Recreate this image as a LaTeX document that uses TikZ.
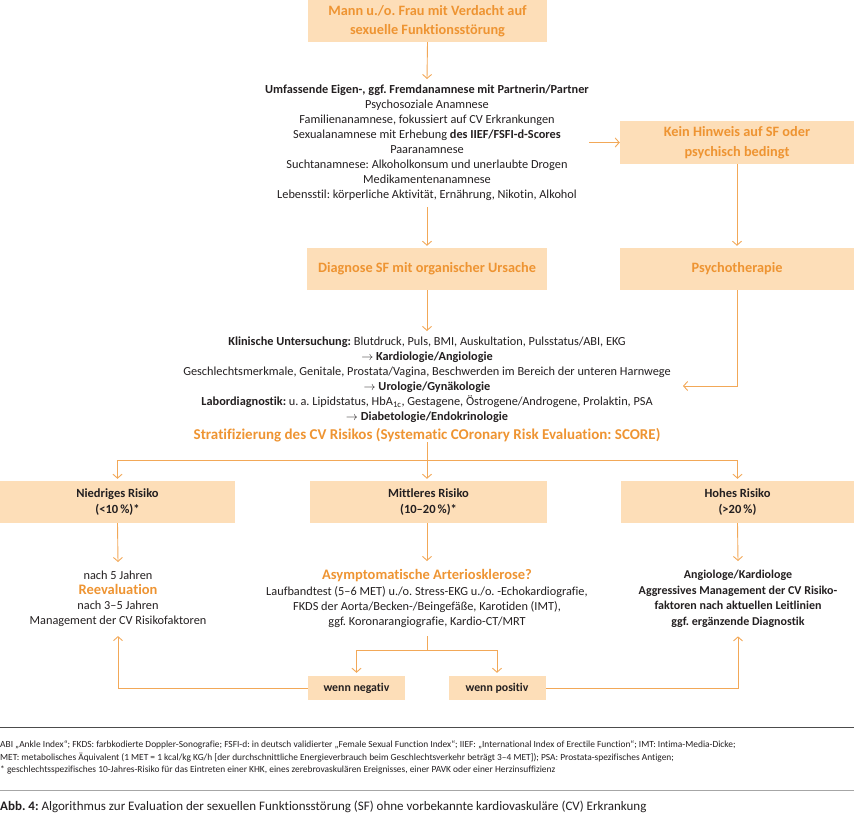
\documentclass[tikz,border=0pt]{standalone}
\usepackage{fontspec}
\setmainfont{Carlito}[Ligatures={TeX,NoCommon}]
\usetikzlibrary{arrows.meta}
\definecolor{peach}{RGB}{253,222,184}
\definecolor{ora}{RGB}{238,148,50}
\definecolor{lin}{RGB}{242,168,88}
\definecolor{txt}{RGB}{35,31,32}
\newcommand\otitlefont{\color{ora}\fontsize{14.5}{15}\selectfont\bfseries}
\frenchspacing
\begin{document}
\frenchspacing
\begin{tikzpicture}[x=1pt,y=-1pt,
  box/.style={fill=peach, inner sep=0, align=center},
  obox/.style={box, text=ora, font=\fontsize{14.3}{19.5}\selectfont\bfseries},
  rbox/.style={box, text=txt, minimum height=42, font=\fontsize{12.5}{16}\selectfont\bfseries},
  sbox/.style={box, text=txt, minimum width=97, minimum height=24, font=\fontsize{11.8}{12}\selectfont\bfseries},
  body/.style={inner xsep=0, inner ysep=6pt, align=center, text=txt, font=\fontsize{12.3}{15}\selectfont},
  arr/.style={draw=lin, line width=0.9pt, -{Straight Barb[length=4pt,width=9pt]}},
  ln/.style={draw=lin, line width=0.9pt},
  fnote/.style={anchor=base west, inner sep=0, text=txt, font=\fontsize{9.4}{12}\selectfont},
]
\useasboundingbox (0,0) rectangle (854,828);

\node[obox, minimum width=239, minimum height=42] (top) at (427.5,21) {Mann u./o. Frau mit Verdacht auf\\sexuelle Funktionsstörung};

\node[body, anchor=north] (anam) at (427,79) {\textbf{Umfassende Eigen-, ggf. Fremdanamnese mit Partnerin/Partner}\\ Psychosoziale Anamnese\\ Familienanamnese, fokussiert auf CV Erkrankungen\\ Sexualanamnese mit Erhebung \textbf{des IIEF/FSFI-d-Scores}\\ Paaranamnese\\ Suchtanamnese: Alkoholkonsum und unerlaubte Drogen\\ Medikamentenanamnese\\ Lebensstil: körperliche Aktivität, Ernährung, Nikotin, Alkohol};

\node[obox, minimum width=234, minimum height=43] (kein) at (737,142.5) {Kein Hinweis auf SF oder\\psychisch bedingt};

\node[obox, minimum width=240, minimum height=42] (diag) at (427,269) {Diagnose SF mit organischer Ursache};
\node[obox, minimum width=234, minimum height=42] (psych) at (737,269) {Psychotherapie};

\node[body, anchor=north] (klin) at (427,331) {\textbf{Klinische Untersuchung:} Blutdruck, Puls, BMI, Auskultation, Pulsstatus/ABI, EKG\\ $\rightarrow$ \textbf{Kardiologie/Angiologie}\\ Geschlechtsmerkmale, Genitale, Prostata/Vagina, Beschwerden im Bereich der unteren Harnwege\\ $\rightarrow$ \textbf{Urologie/Gynäkologie}\\ \textbf{Labordiagnostik:} u.\,a. Lipidstatus, HbA\textsubscript{1c}, Gestagene, Östrogene/Androgene, Prolaktin, PSA\\ $\rightarrow$ \textbf{Diabetologie/Endokrinologie}};

\node[inner sep=0, text=ora, font=\fontsize{15}{16}\selectfont\bfseries] (strat) at (427,435) {Stratifizierung des CV Risikos (Systematic COronary Risk Evaluation: SCORE)};

\coordinate (br) at (427,460);
\coordinate (klinR) at (683,386);

\node[rbox, minimum width=235] (low) at (117.5,502) {Niedriges Risiko\\(<10\,\%)*};
\node[rbox, minimum width=237] (mid) at (428.5,502) {Mittleres Risiko\\(10–20\,\%)*};
\node[rbox, minimum width=233] (high) at (737.5,502) {Hohes Risiko\\(>20\,\%)};

\node[body, anchor=north, inner ysep=9pt] (lowtxt) at (118,562) {nach 5 Jahren\\ {\otitlefont Reevaluation}\\ nach 3–5 Jahren\\ Management der CV Risikofaktoren};

\node[body, anchor=north, inner ysep=8pt] (midtxt) at (427,561) {{\otitlefont Asymptomatische Arteriosklerose?}\\[1.5pt] Laufbandtest (5–6 MET) u./o. Stress-EKG u./o. -Echokardiografie,\\ FKDS der Aorta/Becken-/Beingefäße, Karotiden (IMT),\\ ggf. Koronarangiografie, Kardio-CT/MRT};

\node[body, anchor=north, inner ysep=9pt, font=\fontsize{12}{15.5}\selectfont\bfseries] (hightxt) at (738,561) {Angiologe/Kardiologe\\ Aggressives Management der CV Risiko-\\ faktoren nach aktuellen Leitlinien\\ ggf. ergänzende Diagnostik};

\coordinate (br2) at (427,650);
\node[sbox] (neg) at (356.5,688) {wenn negativ};
\node[sbox] (pos) at (497,688) {wenn positiv};

% connectors
\draw[arr] (top.south) -- (anam.north);
\draw[arr, shorten >=2pt] (anam.south) -- (diag.north);
\draw[arr] (anam.east |- kein.west) -- (kein.west);
\draw[arr, shorten >=2pt] (kein.south) -- (psych.north);
\draw[arr] (diag.south) -- (klin.north);
\draw[arr] (psych.south) |- (klinR);
\draw[ln] (strat.south) -- (br);
\draw[arr, shorten >=2pt] (br) -| (low.north);
\draw[arr, shorten >=2pt] (br) -- (br |- mid.north);
\draw[arr, shorten >=2pt] (br) -| (high.north);
\draw[arr] (low.south) -- (lowtxt.north);
\draw[arr] (mid.south -| br) -- (midtxt.north);
\draw[arr] (high.south) -- (hightxt.north);
\draw[ln] (midtxt.south) -- (br2);
\draw[arr, shorten >=3pt] (br2) -| (neg.north);
\draw[arr, shorten >=3pt] (br2) -| (pos.north);
\draw[arr] (neg.west) -| (lowtxt.south);
\draw[arr] (pos.east) -| (hightxt.south);

% footer
\draw[line width=0.8pt, draw=black!70] (0,727) -- (854,727);
\node[fnote] (fn1) at (0,747) {ABI „Ankle Index“; FKDS: farbkodierte Doppler-Sonografie; FSFI-d: in deutsch validierter „Female Sexual Function Index“; IIEF: „International Index of Erectile Function“; IMT: Intima-Media-Dicke;};
\node[fnote] (fn2) at (0,760) {MET: metabolisches Äquivalent (1 MET = 1 kcal/kg KG/h [der durchschnittliche Energieverbrauch beim Geschlechtsverkehr beträgt 3–4 MET]); PSA: Prostata-spezifisches Antigen;};
\node[fnote] (fn3) at (0,772) {* geschlechtsspezifisches 10-Jahres-Risiko für das Eintreten einer KHK, eines zerebrovaskulären Ereignisses, einer PAVK oder einer Herzinsuffizienz};
\draw[line width=0.6pt, draw=black!35] (0,790) -- (854,790);
\node[anchor=base west, inner sep=0, text=txt, font=\fontsize{13}{14}\selectfont] (cap) at (0,810) {\textbf{Abb. 4:} Algorithmus zur Evaluation der sexuellen Funktionsstörung (SF) ohne vorbekannte kardiovaskuläre (CV) Erkrankung};
\end{tikzpicture}
\end{document}
